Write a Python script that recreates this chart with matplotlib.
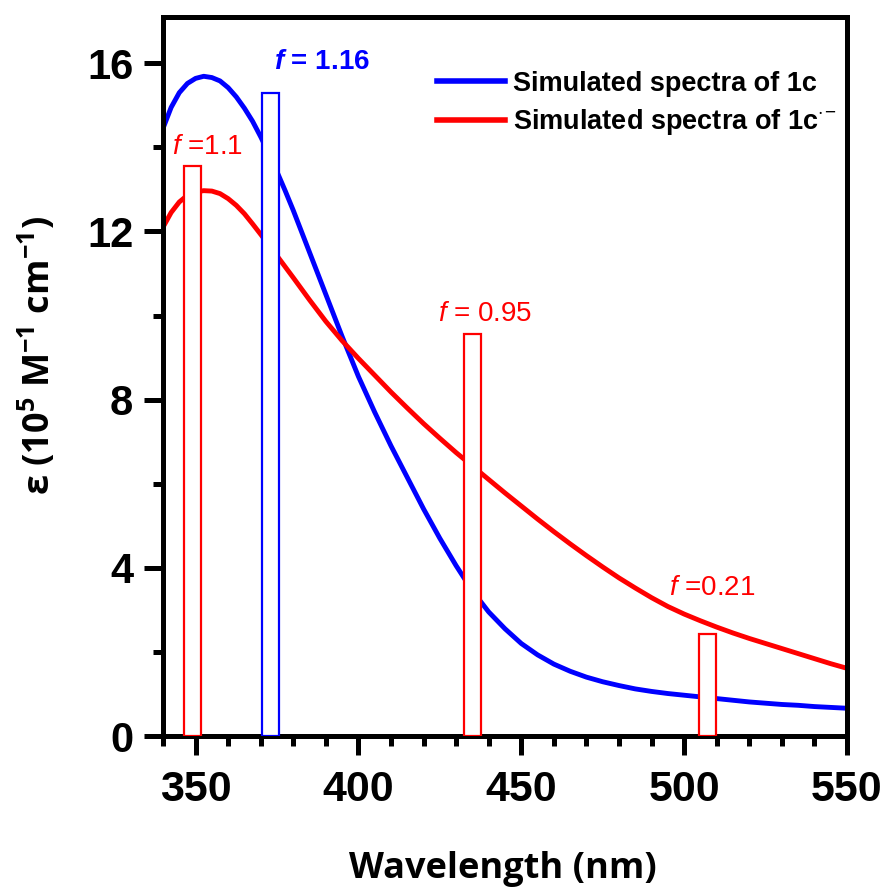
import matplotlib
matplotlib.use("Agg")
import matplotlib.pyplot as plt
from matplotlib.ticker import MultipleLocator

plt.rcParams['mathtext.fontset'] = 'custom'
plt.rcParams['mathtext.rm'] = 'Liberation Sans'
plt.rcParams['mathtext.it'] = 'Liberation Sans:italic'
plt.rcParams['mathtext.bf'] = 'Liberation Sans:bold'
plt.rcParams['mathtext.bfit'] = 'Liberation Sans:italic:bold'

# ---- data ----
wavelength = [340, 342.5, 345, 347.5, 350, 352.5, 355, 357.5, 360, 362.5, 365,
              367.5, 370, 372.5, 375, 377.5, 380, 385, 390, 395, 400,
              405, 410, 415, 420, 425, 430, 435, 440, 445, 450, 455, 460, 465,
              470, 475, 480, 485, 490, 495, 500, 505, 510, 515, 520, 525, 530,
              535, 540, 545, 550]
eps_1c = [14.45, 14.95, 15.3, 15.52, 15.64, 15.69, 15.66, 15.58, 15.42, 15.2,
          14.93, 14.62, 14.25, 13.85, 13.42, 12.97, 12.5, 11.5, 10.5, 9.5, 8.55,
          7.7, 6.9, 6.15, 5.4, 4.7, 4.05, 3.45, 2.95, 2.55, 2.2, 1.93, 1.71,
          1.54, 1.4, 1.29, 1.2, 1.12, 1.06, 1.01, 0.97, 0.93, 0.89, 0.85, 0.81,
          0.78, 0.75, 0.73, 0.7, 0.68, 0.66]
eps_1c_anion = [12.1, 12.45, 12.7, 12.86, 12.94, 12.97, 12.96, 12.9, 12.78, 12.62,
                12.42, 12.18, 11.93, 11.68, 11.42, 11.16, 10.9, 10.37, 9.86, 9.4,
                8.98, 8.58, 8.18, 7.8, 7.43, 7.08, 6.74, 6.42, 6.1, 5.78, 5.47,
                5.16, 4.86, 4.57, 4.29, 4.02, 3.76, 3.52, 3.29, 3.08, 2.9, 2.74,
                2.59, 2.45, 2.32, 2.2, 2.08, 1.96, 1.84, 1.72, 1.61]

bar_blue_x = [373.0]
bar_blue_h = [15.3]
bar_red_x = [349.0, 435.0, 507.2]
bar_red_h = [13.55, 9.57, 2.42]

f_labels = ["1.16", "1.1", "0.95", "0.21"]

BLUE = '#0000FF'
RED = '#FF0000'

fig = plt.figure(figsize=(8.88, 8.90), dpi=100)
ax = fig.add_axes([163/888, 1-736/890, (847-163)/888, (736-17)/890])

ax.plot(wavelength, eps_1c, color=BLUE, lw=3.5, zorder=2,
        label='Simulated spectra of 1c', solid_joinstyle='round')
ax.plot(wavelength, eps_1c_anion, color=RED, lw=3.5, zorder=2,
        label=r'Simulated spectra of 1c$^{\cdot}{}^{-}$', solid_joinstyle='round')

ax.bar(bar_blue_x, bar_blue_h, width=5.2, facecolor='white', edgecolor=BLUE,
       linewidth=1.6, zorder=3)
ax.bar(bar_red_x, bar_red_h, width=5.2, facecolor='white', edgecolor=RED,
       linewidth=1.6, zorder=3)

# oscillator strength labels
ax.text(374, 15.87, r'$\mathbfit{f}$ = ' + f_labels[0], color=BLUE, fontsize=20,
        family='Liberation Sans', fontweight='bold', ha='left', va='baseline',
        zorder=4)
ax.text(342.8, 13.85, r'$\it{f}$ =' + f_labels[1], color=RED, fontsize=20,
        family='Liberation Sans', ha='left', va='baseline', zorder=4)
ax.text(424.4, 9.88, r'$\it{f}$ = ' + f_labels[2], color=RED, fontsize=20,
        family='Liberation Sans', ha='left', va='baseline', zorder=4)
ax.text(495.3, 3.35, r'$\it{f}$ =' + f_labels[3], color=RED, fontsize=20,
        family='Liberation Sans', ha='left', va='baseline', zorder=4)

ax.set_xlim(340, 550)
ax.set_ylim(0, 17.1)
ax.xaxis.set_major_locator(MultipleLocator(50))
ax.xaxis.set_minor_locator(MultipleLocator(10))
ax.yaxis.set_major_locator(MultipleLocator(4))
ax.yaxis.set_minor_locator(MultipleLocator(2))

for s in ax.spines.values():
    s.set_linewidth(3.6)
ax.tick_params(which='major', direction='out', length=13.5, width=3.6)
ax.tick_params(which='minor', direction='out', length=7.5, width=3.6)
ax.tick_params(axis='x', which='major', pad=11)
ax.tick_params(axis='y', which='major', pad=8)
for lab in ax.get_xticklabels():
    lab.set_fontfamily('Liberation Sans')
    lab.set_fontweight('bold')
    lab.set_fontsize(31)
for lab in ax.get_yticklabels():
    lab.set_fontfamily('Liberation Sans')
    lab.set_fontweight('bold')
    lab.set_fontsize(30)

ax.set_xlabel('Wavelength (nm)', family='Open Sans', fontweight='bold', fontsize=26)
ax.xaxis.set_label_coords(0.497, -0.16)
fig.text(38/888, 1-356/890,
         r'ε (10$^{\mathregular{5}}$ M$^{\mathregular{-1}}$ cm$^{\mathregular{-1}}$)',
         family='Open Sans', fontweight='bold', fontsize=26, rotation=90,
         ha='center', va='center')

leg = ax.legend(loc='upper left', bbox_to_anchor=(0.4006, 0.925), frameon=False,
                borderpad=0, borderaxespad=0, handlelength=2.5, handletextpad=0.3,
                labelspacing=0.38, prop={'family': 'Liberation Sans',
                                         'weight': 'bold', 'size': 19.5})
for h in leg.get_lines():
    h.set_linewidth(4.0)

fig.savefig('out.png', dpi=100)
